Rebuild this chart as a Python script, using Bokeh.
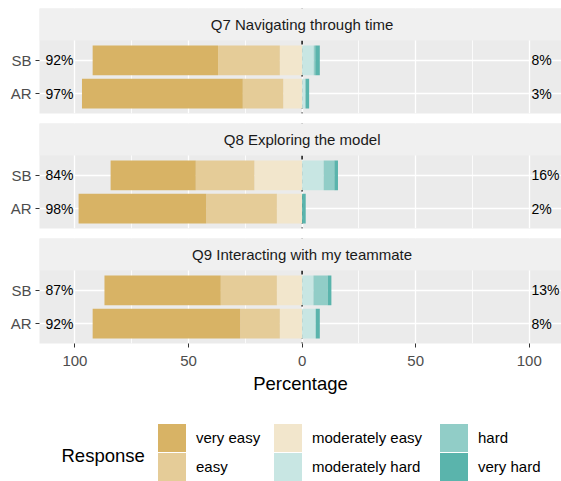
from bokeh.plotting import figure
from bokeh.layouts import column
from bokeh.models import Range1d, FixedTicker, BoxAnnotation, Label, Span, Legend, LegendItem
from bokeh.core.properties import value
from bokeh.embed import file_html
from bokeh.resources import INLINE

# ---------------- data ----------------
questions = ["Q7 Navigating through time", "Q8 Exploring the model", "Q9 Interacting with my teammate"]
groups = ["SB", "AR"]
levels = ["very easy", "easy", "moderately easy", "moderately hard", "hard", "very hard"]
colors = ["#D8B365", "#E5CC98", "#F2E6CC", "#C8E6E3", "#91CDC7", "#5AB4AC"]

# order of each list: Q7 SB, Q7 AR, Q8 SB, Q8 AR, Q9 SB, Q9 AR  (percent)
very_easy = [55.2, 70.8, 37.5, 56.2, 51.2, 64.9]
easy = [27.2, 17.8, 25.8, 31.1, 24.7, 17.5]
moderately_easy = [9.8, 8.3, 21.0, 11.1, 11.1, 9.8]
moderately_hard = [5.1, 1.5, 9.5, 0.0, 5.0, 6.0]
hard = [0.7, 0.0, 4.7, 0.0, 6.3, 0.0]
very_hard = [2.0, 1.6, 1.6, 1.6, 1.6, 1.8]

x_ticks = [-100, -50, 0, 50, 100]
x_minor = [-75, -25, 25, 75]

# ---------------- style ----------------
FONT = "Liberation Sans"
W = 561
LEFT = 39
XMIN, XMAX = -115.6, 114.2
PANEL_LO, PANEL_HI = 0.4, 2.6
STRIP_UNITS = 32 * (PANEL_HI - PANEL_LO) / 73
YTOP = PANEL_HI + STRIP_UNITS
PANEL_BG = "#EBEBEB"
STRIP_BG = "#F0F0F0"


def make_facet(qi, top, bottom):
    mb = 57 if bottom else 10
    p = figure(width=W, height=105 + mb + top,
               x_range=Range1d(XMIN, XMAX), y_range=Range1d(PANEL_LO, YTOP),
               output_backend="svg", toolbar_location=None,
               min_border_left=LEFT, min_border_right=0, min_border_top=top,
               min_border_bottom=mb,
               background_fill_color=PANEL_BG, border_fill_color="white",
               outline_line_color=None)
    xt = FixedTicker(ticks=x_ticks, minor_ticks=x_minor)
    p.xaxis.ticker = xt
    p.xgrid.ticker = xt
    p.xgrid.grid_line_color = "white"
    p.xgrid.grid_line_width = 1.3
    p.xgrid.minor_grid_line_color = "white"
    p.xgrid.minor_grid_line_width = 0.8
    yt = FixedTicker(ticks=[1, 2])
    p.yaxis.ticker = yt
    p.ygrid.ticker = yt
    p.ygrid.grid_line_color = "white"
    p.ygrid.grid_line_width = 1.3
    p.yaxis.major_label_overrides = {len(groups) - i: g for i, g in enumerate(groups)}
    p.yaxis.axis_line_color = None
    p.yaxis.major_tick_out = 4
    p.yaxis.major_tick_in = 0
    p.yaxis.minor_tick_out = 0
    p.yaxis.minor_tick_in = 0
    p.yaxis.major_tick_line_color = "#333333"
    p.yaxis.major_label_text_font = FONT
    p.yaxis.major_label_text_font_size = "15px"
    p.yaxis.major_label_text_color = "#4D4D4D"
    p.yaxis.major_label_standoff = 4

    if bottom:
        p.xaxis.major_label_overrides = {t: str(abs(t)) for t in x_ticks}
        p.xaxis.axis_line_color = None
        p.xaxis.major_tick_out = 4
        p.xaxis.major_tick_in = 0
        p.xaxis.minor_tick_out = 0
        p.xaxis.minor_tick_in = 0
        p.xaxis.major_tick_line_color = "#333333"
        p.xaxis.major_label_text_font = FONT
        p.xaxis.major_label_text_font_size = "15px"
        p.xaxis.major_label_text_color = "#4D4D4D"
        p.xaxis.major_label_standoff = 8
        p.xaxis.axis_label = "Percentage"
        p.xaxis.axis_label_text_font = FONT
        p.xaxis.axis_label_text_font_size = "18.5px"
        p.xaxis.axis_label_text_font_style = "normal"
        p.xaxis.axis_label_text_color = "black"
        p.xaxis.axis_label_standoff = 4
    else:
        p.xaxis.visible = False

    # zero reference line (under the bars)
    p.add_layout(Span(location=0, dimension="height", line_color="black",
                      line_width=1.4, line_dash="4 4", level="underlay"))

    ys = [len(groups) - i for i in range(len(groups))]
    idx = [qi * len(groups) + i for i in range(len(groups))]
    left_series = [moderately_easy, easy, very_easy]
    left_cols = [colors[2], colors[1], colors[0]]
    right_series = [moderately_hard, hard, very_hard]
    right_cols = [colors[3], colors[4], colors[5]]

    acc = [0.0] * len(idx)
    for ser, col in zip(left_series, left_cols):
        vals = [ser[k] for k in idx]
        r = [-a for a in acc]
        l = [-(a + v) for a, v in zip(acc, vals)]
        p.hbar(y=ys, left=l, right=r, height=0.9, fill_color=col, line_color=None)
        acc = [a + v for a, v in zip(acc, vals)]
    low = acc[:]
    acc = [0.0] * len(idx)
    for ser, col in zip(right_series, right_cols):
        vals = [ser[k] for k in idx]
        l = acc[:]
        r = [a + v for a, v in zip(acc, vals)]
        p.hbar(y=ys, left=l, right=r, height=0.9, fill_color=col, line_color=None)
        acc = r
    high = acc[:]

    p.text(x=[-113] * len(ys), y=ys, text=[f"{round(v)}%" for v in low],
           text_align="left", text_baseline="middle", text_font=value(FONT),
           text_font_size="14px", text_color="black")
    p.text(x=[101] * len(ys), y=ys, text=[f"{round(v)}%" for v in high],
           text_align="left", text_baseline="middle", text_font=value(FONT),
           text_font_size="14px", text_color="black")

    # facet strip
    p.add_layout(BoxAnnotation(bottom=PANEL_HI, fill_color=STRIP_BG, fill_alpha=1,
                               line_color=None))
    p.add_layout(Label(x=0, y=PANEL_HI + STRIP_UNITS / 2, text=questions[qi],
                       text_align="center", text_baseline="middle",
                       text_font=FONT, text_font_size="15px", text_color="#1A1A1A"))
    return p


n = len(questions)
facets = [make_facet(i, 8 if i == 0 else 0, i == n - 1) for i in range(n)]

# ---------------- legend ----------------
LEG_H = 81
leg = figure(width=W, height=LEG_H, x_range=Range1d(0, 1), y_range=Range1d(0, 1),
             output_backend="svg", toolbar_location=None, min_border=0,
             min_border_left=LEFT, min_border_right=0,
             outline_line_color=None, border_fill_color="white", background_fill_color="white")
leg.axis.visible = False
leg.grid.visible = False
# legend swatch renderers (their single point lies outside the visible range)
rends = [leg.hbar(y=[-10], left=[0], right=[1], height=1, fill_color=c, line_color=None)
         for c in colors]
cols_x = [115, 231, 397]   # px from frame left
rows_y = [26, -3]          # px from frame bottom
for ci in range(3):
    for k in range(2):
        j = 2 * ci + k
        lg = Legend(items=[LegendItem(label=levels[j], renderers=[rends[j]])],
                    location=(cols_x[ci], rows_y[k]), orientation="vertical",
                    glyph_width=35, glyph_height=35, label_standoff=7,
                    padding=0, margin=0, border_line_color=None, background_fill_alpha=0,
                    label_text_font=FONT, label_text_font_size="15px",
                    label_text_color="black")
        leg.add_layout(lg, "center")
leg.add_layout(Label(x=22, y=26, x_units="screen", y_units="screen", text="Response",
                     text_align="left", text_baseline="middle", text_font=FONT,
                     text_font_size="18.5px", text_color="black"))

layout = column(*facets, leg, spacing=0)
open("out.html", "w").write(file_html(layout, INLINE))
